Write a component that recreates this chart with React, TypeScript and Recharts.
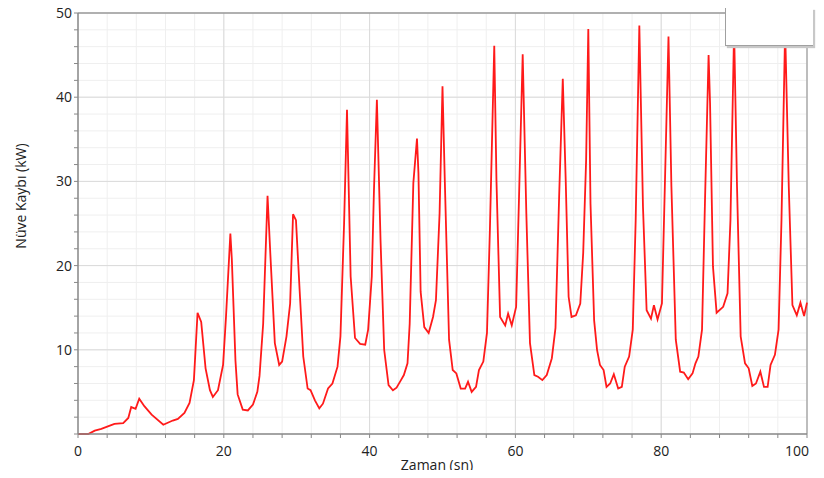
import React from 'react';
import {
  LineChart, Line, XAxis, YAxis, CartesianGrid, ReferenceLine, Legend,
} from 'recharts';

const times = [
  0, 1.4, 2.3, 3.2, 4.1, 5.0, 6.2, 6.9, 7.3, 7.9, 8.4, 9.1, 10.1, 11.7, 13.0, 13.7, 14.6, 15.3, 15.9,
  16.4, 16.9, 17.5, 18.1, 18.5, 19.2, 19.9, 20.3, 20.9, 21.1, 21.6, 21.9, 22.6, 23.3, 24.0, 24.6, 24.9,
  25.4, 26.0, 26.4, 27.0, 27.6, 28.0, 28.6, 29.1, 29.5, 29.9, 30.4, 30.9, 31.5, 31.9, 32.5, 33.1, 33.6,
  34.3, 34.9, 35.6, 36.0, 36.5, 36.9, 37.4, 38.0, 38.7, 39.4, 39.8, 40.3, 40.6, 41.0, 41.5, 42.0, 42.6,
  43.2, 43.7, 44.3, 44.7, 45.2, 45.5, 46.0, 46.5, 46.7, 47.0, 47.5, 48.1, 48.7, 49.1, 49.6, 50.0, 50.3,
  50.9, 51.4, 51.9, 52.5, 53.1, 53.5, 54.0, 54.6, 55.0, 55.6, 56.1, 56.5, 57.1, 57.4, 57.9, 58.6, 59.0,
  59.5, 60.1, 60.5, 61.0, 61.5, 62.0, 62.6, 63.1, 63.7, 64.3, 65.0, 65.5, 66.0, 66.5, 66.9, 67.3, 67.7,
  68.3, 68.9, 69.3, 69.7, 70.0, 70.3, 70.8, 71.2, 71.6, 72.1, 72.5, 73.0, 73.5, 74.1, 74.6, 75.0, 75.6,
  76.1, 76.5, 77.0, 77.5, 78.0, 78.6, 79.0, 79.5, 80.1, 80.5, 81.0, 81.4, 82.0, 82.6, 83.1, 83.7, 84.3,
  84.7, 85.1, 85.6, 86.0, 86.5, 86.7, 87.1, 87.6, 88.5, 89.1, 89.5, 90.0, 90.4, 90.9, 91.5, 92.0, 92.5,
  93.0, 93.6, 94.1, 94.6, 95.0, 95.6, 96.1, 96.5, 97.0, 97.5, 98.0, 98.6, 99.1, 99.6, 100,
];

const coreLoss = [
  0, 0, 0.4, 0.6, 0.9, 1.2, 1.3, 1.9, 3.2, 3.0, 4.2, 3.3, 2.3, 1.1, 1.6, 1.8, 2.5, 3.7, 6.4,
  14.4, 13.3, 7.8, 5.2, 4.4, 5.2, 8.2, 13.9, 23.8, 20.8, 8.7, 4.7, 2.9, 2.8, 3.5, 5.0, 6.9,
  13.1, 28.3, 21.1, 10.8, 8.2, 8.6, 11.6, 15.5, 26.1, 25.4, 17.1, 9.2, 5.4, 5.2, 4.0, 3.05, 3.6,
  5.4, 6.0, 8.0, 11.6, 25.0, 38.5, 18.7, 11.4, 10.7, 10.6, 12.4, 18.7, 29.0, 39.7, 23.0, 10.0, 5.8,
  5.2, 5.5, 6.4, 7.0, 8.4, 13.1, 29.8, 35.1, 31.0, 16.9, 12.7, 12.0, 13.9, 15.9, 26.2, 41.3, 30.6,
  11.2, 7.6, 7.2, 5.4, 5.4, 6.2, 5.0, 5.6, 7.6, 8.6, 12.0, 24.2, 46.1, 30.2, 13.9, 12.9, 14.3,
  12.9, 15.1, 28.2, 45.1, 26.2, 10.8, 7.0, 6.8, 6.4, 7.0, 9.0, 12.6, 28.2, 42.2, 30.2, 16.3, 13.9,
  14.1, 15.5, 21.5, 32.5, 48.1, 27.4, 13.5, 10.0, 8.2, 7.6, 5.6, 6.0, 7.1, 5.4, 5.6, 8.0, 9.2,
  12.4, 25.4, 48.5, 27.0, 14.7, 13.7, 15.3, 13.6, 15.5, 29.4, 47.2, 29.4, 11.2, 7.4, 7.3, 6.5, 7.2,
  8.4, 9.2, 12.4, 27.4, 45.0, 39.3, 19.9, 14.4, 15.1, 16.7, 25.4, 48.0, 29.4, 11.6, 8.4, 7.8, 5.7,
  6.0, 7.4, 5.6, 5.6, 8.2, 9.4, 12.4, 25.4, 48.0, 29.4, 15.3, 14.1, 15.6, 14.0, 15.6,
];

const xTicks = [0, 4, 8, 12, 16, 20, 24, 28, 32, 36, 40, 44, 48, 52, 56, 60, 64, 68, 72, 76, 80, 84, 88, 92, 96, 100];
const xLabels = [0, 20, 40, 60, 80, 100];
const yTicks = [0, 2, 4, 6, 8, 10, 12, 14, 16, 18, 20, 22, 24, 26, 28, 30, 32, 34, 36, 38, 40, 42, 44, 46, 48, 50];
const yLabels = [10, 20, 30, 40, 50];
const xMajor = [20, 40, 60, 80];
const yMajor = [10, 20, 30, 40];

const data = times.map((t, i) => ({ t, v: coreLoss[i] }));

const FONT = "'Segoe UI', 'Open Sans', sans-serif";

const LegendBox = () => (
  <div
    style={{
      width: 87,
      height: 37,
      background: '#ffffff',
      borderLeft: '1px solid #a0a0a0',
      borderBottom: '1px solid #a0a0a0',
      boxShadow: '2px 2px 1px #c8c8c8',
    }}
  />
);

const XTick = (props: any) => {
  const { x, y, payload } = props;
  const v = payload.value;
  if (!xLabels.includes(v)) return null;
  const last = v === 100;
  return (
    <text
      x={last ? x + 2 : x}
      y={y + 10}
      textAnchor={last ? 'end' : 'middle'}
      dominantBaseline="central"
      fill="#222"
      fontSize={14}
      fontFamily={FONT}
    >
      {v}
    </text>
  );
};

export default function App() {
  return (
    <div style={{ marginTop: -8, height: 470 }}>
      <LineChart
        width={808}
        height={478}
        data={data}
        margin={{ top: 13, right: 9, bottom: 8, left: 0 }}
        style={{ fontFamily: FONT }}
      >
        <CartesianGrid stroke="#efefef" strokeWidth={1} />
        <CartesianGrid
          stroke="#dadada"
          strokeWidth={1}
          horizontalValues={yMajor}
          verticalValues={xMajor}
        />
        <XAxis
          dataKey="t"
          type="number"
          domain={[0, 100]}
          ticks={xTicks}
          interval={0}
          tick={<XTick />}
          tickSize={4}
          tickLine={{ stroke: '#888' }}
          axisLine={{ stroke: '#888', strokeWidth: 1.5 }}
          height={36}
          label={() => (
            <text x={429} y={464} textAnchor="middle" dominantBaseline="central" fill="#222" fontSize={14} fontFamily={FONT}>
              Zaman (sn)
            </text>
          )}
        />
        <YAxis
          type="number"
          domain={[0, 50]}
          ticks={yTicks}
          interval={0}
          tickFormatter={(v: number) => (yLabels.includes(v) ? String(v) : '')}
          tick={{ fill: '#222', fontSize: 14 }}
          tickSize={4}
          tickLine={{ stroke: '#888' }}
          axisLine={{ stroke: '#888', strokeWidth: 1.5 }}
          width={70}
          label={() => (
            <text
              x={12}
              y={196}
              textAnchor="middle"
              dominantBaseline="central"
              fill="#222"
              fontSize={14}
              fontFamily={FONT}
              transform="rotate(-90, 12, 196)"
            >
              Nüve Kaybı (kW)
            </text>
          )}
        />
        <ReferenceLine y={50} stroke="#999" strokeWidth={1.5} />
        <ReferenceLine x={100} stroke="#aaa" strokeWidth={1.5} />
        <Line
          type="linear"
          dataKey="v"
          stroke="#ff1a1a"
          strokeWidth={1.8}
          dot={false}
          isAnimationActive={false}
        />
        <Legend
          layout="horizontal"
          verticalAlign="middle"
          align="center"
          content={() => <LegendBox />}
          wrapperStyle={{ top: 8, left: 717, width: 88, height: 38 }}
        />
      </LineChart>
    </div>
  );
}
